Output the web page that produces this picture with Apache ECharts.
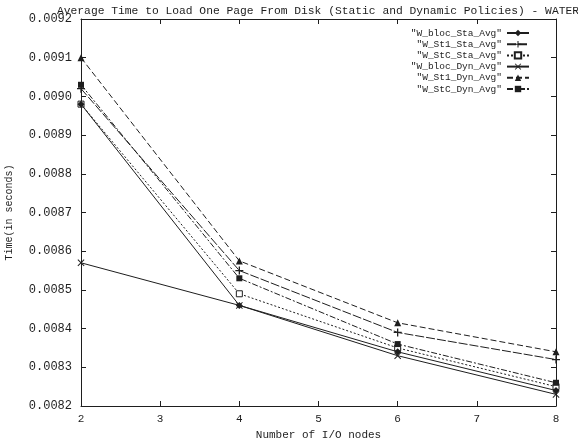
<!DOCTYPE html>
<html>
<head>
<meta charset="utf-8">
<script src="https://cdn.jsdelivr.net/npm/echarts@6/dist/echarts.min.js"></script>
<style>html,body{margin:0;padding:0;background:#fff}#c{width:578px;height:446px}</style>
</head>
<body>
<div id="c"></div>
<script>
var nodes = [2, 4, 6, 8];
var seriesNames = ['"W_bloc_Sta_Avg"', '"W_St1_Sta_Avg"', '"W_StC_Sta_Avg"', '"W_bloc_Dyn_Avg"', '"W_St1_Dyn_Avg"', '"W_StC_Dyn_Avg"'];
var blocSta = [0.00898, 0.00846, 0.00834, 0.00824];
var st1Sta  = [0.00902, 0.00855, 0.00839, 0.00832];
var stcSta  = [0.00898, 0.00849, 0.00835, 0.00825];
var blocDyn = [0.00857, 0.00846, 0.00833, 0.00823];
var st1Dyn  = [0.00910, 0.008575, 0.008415, 0.00834];
var stcDyn  = [0.00903, 0.00853, 0.00836, 0.00826];
var xTicks = [2, 3, 4, 5, 6, 7, 8];

var INK = '#1e1e1e';
var FONT = '"Liberation Mono", "DejaVu Sans Mono", monospace';
var PLUS = 'path://M-0.8,-5H0.8V-0.8H5V0.8H0.8V5H-0.8V0.8H-5V-0.8H-0.8Z';
var CROSS = 'path://M-4,-5L0,-1L4,-5L5,-4L1,0L5,4L4,5L0,1L-4,5L-5,4L-1,0L-5,-4Z';

function pts(arr) { return nodes.map(function (x, i) { return [x, arr[i]]; }); }

function mk(name, arr, symbol, size, lineType, fill, z) {
  return {
    name: name, type: 'line', data: pts(arr),
    symbol: symbol, symbolSize: size,
    lineStyle: { color: INK, width: 1, type: lineType },
    itemStyle: { color: fill || INK, borderColor: INK, borderWidth: fill ? 1 : 0 },
    emphasis: { disabled: true },
    animation: false, z: z || 3
  };
}

var chart = echarts.init(document.getElementById('c'), null, { renderer: 'canvas' });
var tickStyle = { show: true, inside: true, length: 5, lineStyle: { color: INK, width: 1 } };
chart.setOption({
  backgroundColor: '#fff',
  animation: false,
  title: {
    text: 'Average Time to Load One Page From Disk (Static and Dynamic Policies) - WATER',
    left: 52, top: 1,
    textStyle: { fontFamily: FONT, fontSize: 11.3, fontWeight: 'normal', color: INK }
  },
  legend: {
    orient: 'vertical', right: 48, top: 27.5, align: 'right', padding: 0,
    itemWidth: 22, itemHeight: 8, itemGap: 0.2,
    textStyle: { fontFamily: FONT, fontSize: 9.5, lineHeight: 11, color: INK },
    data: seriesNames, selectedMode: false
  },
  grid: { left: 81, right: 22, top: 19, bottom: 40, containLabel: false, outerBoundsMode: 'none' },
  xAxis: [{
    type: 'value', min: 2, max: 8, interval: 1, position: 'bottom',
    name: 'Number of I/O nodes', nameLocation: 'middle', nameGap: 22,
    nameTextStyle: { fontFamily: FONT, fontSize: 11, color: INK },
    axisLine: { show: true, lineStyle: { color: INK, width: 1 } },
    axisTick: tickStyle,
    axisLabel: { fontFamily: FONT, fontSize: 11, color: INK, margin: 8,
      formatter: function (v) { return xTicks.indexOf(v) >= 0 ? String(v) : ''; } },
    splitLine: { show: false }
  }, {
    type: 'value', min: 2, max: 8, interval: 1, position: 'top',
    axisLine: { show: true, lineStyle: { color: INK, width: 1 } },
    axisTick: tickStyle, axisLabel: { show: false }, splitLine: { show: false }
  }],
  yAxis: [{
    type: 'value', min: 0.0082, max: 0.0092, interval: 0.0001, position: 'left',
    name: 'Time(in seconds)', nameLocation: 'middle', nameGap: 67, nameRotate: 90,
    nameTextStyle: { fontFamily: FONT, fontSize: 10, color: INK },
    axisLine: { show: true, lineStyle: { color: INK, width: 1 } },
    axisTick: tickStyle,
    axisLabel: { fontFamily: FONT, fontSize: 12, color: INK, margin: 9,
      formatter: function (v) { return v.toFixed(4); } },
    splitLine: { show: false }
  }, {
    type: 'value', min: 0.0082, max: 0.0092, interval: 0.0001, position: 'right',
    axisLine: { show: true, lineStyle: { color: INK, width: 1 } },
    axisTick: tickStyle, axisLabel: { show: false }, splitLine: { show: false }
  }],
  series: [
    mk(seriesNames[0], blocSta, 'diamond', 7, 'solid', null, 4),
    mk(seriesNames[1], st1Sta, PLUS, 8, [9, 2]),
    mk(seriesNames[2], stcSta, 'rect', 6, [2, 2], '#ffffff', 2),
    mk(seriesNames[3], blocDyn, CROSS, 7, 'solid'),
    mk(seriesNames[4], st1Dyn, 'triangle', 7, [6, 3]),
    mk(seriesNames[5], stcDyn, 'rect', 6, [6, 2, 2, 2])
  ]
});
</script>
</body>
</html>
